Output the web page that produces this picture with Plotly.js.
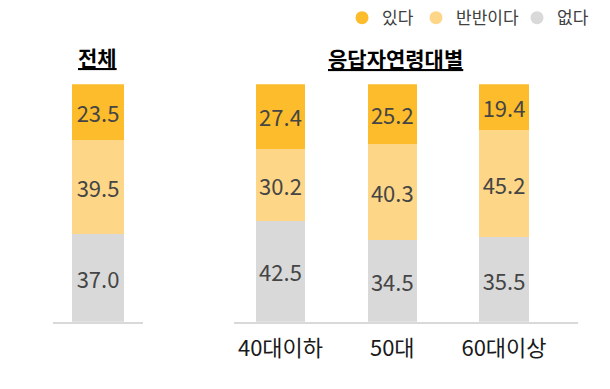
<!DOCTYPE html>
<html><head><meta charset="utf-8">
<script src="https://cdn.plot.ly/plotly-3.0.1.min.js"></script>
<style>html,body{margin:0;padding:0;background:#fff}#c{width:610px;height:389px}</style>
</head><body><div id="c"></div>
<script>
const seriesNames = ['있다', '반반이다', '없다'];
const colors = ['#FCBC2B', '#FDD687', '#D9D9D9'];
const totalCat = ['전체'];
const totalYes = [23.5];
const totalHalf = [39.5];
const totalNo = [37.0];
const ageCats = ['40대이하', '50대', '60대이상'];
const ageYes = [27.4, 25.2, 19.4];
const ageHalf = [30.2, 40.3, 45.2];
const ageNo = [42.5, 34.5, 35.5];

const FONT = '"Noto Sans CJK KR", "Noto Sans", sans-serif';
const textFont = {family: FONT, size: 22, color: '#454545'};

function bar(x, y, color, xa, w) {
  return {type: 'bar', x: x, y: y, xaxis: xa, yaxis: xa === 'x' ? 'y' : 'y2',
    marker: {color: color, line: {width: 0}}, width: w, showlegend: false,
    text: y.map(v => v.toFixed(1)), textposition: 'inside', insidetextanchor: 'middle',
    constraintext: 'none', textangle: 0,
    textfont: textFont, hoverinfo: 'skip'};
}
const traces = [];
// stacking bottom-to-top: 없다, 반반이다, 있다
traces.push(bar(totalCat, totalNo, colors[2], 'x', 0.567));
traces.push(bar(totalCat, totalHalf, colors[1], 'x', 0.567));
traces.push(bar(totalCat, totalYes, colors[0], 'x', 0.567));
traces.push(bar(ageCats, ageNo, colors[2], 'x2', 0.44));
traces.push(bar(ageCats, ageHalf, colors[1], 'x2', 0.44));
traces.push(bar(ageCats, ageYes, colors[0], 'x2', 0.44));
// legend entries with circle markers, one legend each
const legendIds = ['legend', 'legend2', 'legend3'];
seriesNames.forEach((n, i) => {
  traces.push({type: 'scatter', mode: 'markers', x: [null], y: [null], name: n,
    marker: {symbol: 'circle', size: 13, color: colors[i]}, xaxis: 'x', yaxis: 'y',
    showlegend: true, legend: legendIds[i]});
});

const W = 610, H = 389;
const yDom = [(H - 321) / H, (H - 81) / H];
const textStarts = [382, 456, 557];
function leg(i) {
  return {orientation: 'h', x: (textStarts[i] - 40) / W, xanchor: 'left', y: 1.01, yanchor: 'top',
    font: {family: FONT, size: 17, color: '#404040'}, bgcolor: 'rgba(0,0,0,0)', borderwidth: 0};
}
const layout = {
  width: W, height: H, margin: {l: 0, r: 0, t: 0, b: 0},
  paper_bgcolor: '#fff', plot_bgcolor: '#fff',
  barmode: 'stack', bargap: 0,
  font: {family: FONT, size: 17, color: '#404040'},
  showlegend: true,
  legend: leg(0), legend2: leg(1), legend3: leg(2),
  xaxis: {domain: [53 / W, 143 / W], range: [-0.5, 0.5], type: 'category',
    showline: true, linecolor: '#D9D9D9', linewidth: 2, showticklabels: false,
    showgrid: false, zeroline: false, fixedrange: true},
  yaxis: {domain: yDom, range: [0, 100], visible: false, fixedrange: true},
  xaxis2: {domain: [234 / W, 578 / W], range: [-0.416, 2.662], type: 'category',
    showline: true, linecolor: '#D9D9D9', linewidth: 2, showgrid: false, zeroline: false,
    ticks: 'outside', ticklen: 6, tickcolor: 'rgba(0,0,0,0)',
    tickfont: {family: FONT, size: 22, color: '#1a1a1a'}, fixedrange: true},
  yaxis2: {domain: yDom, range: [0, 100], visible: false, anchor: 'x2', fixedrange: true},
  annotations: [
    {text: '<b><u>전체</u></b>', xref: 'paper', yref: 'paper', x: 97 / W, y: (H - 54) / H,
      xanchor: 'center', yanchor: 'middle', showarrow: false,
      font: {family: FONT, size: 21, color: '#000'}},
    {text: '<b><u>응답자연령대별</u></b>', xref: 'paper', yref: 'paper', x: 395 / W, y: (H - 55) / H,
      xanchor: 'center', yanchor: 'middle', showarrow: false,
      font: {family: FONT, size: 21, color: '#000'}}
  ]
};
Plotly.newPlot('c', traces, layout, {displayModeBar: false, staticPlot: true});
</script></body></html>
